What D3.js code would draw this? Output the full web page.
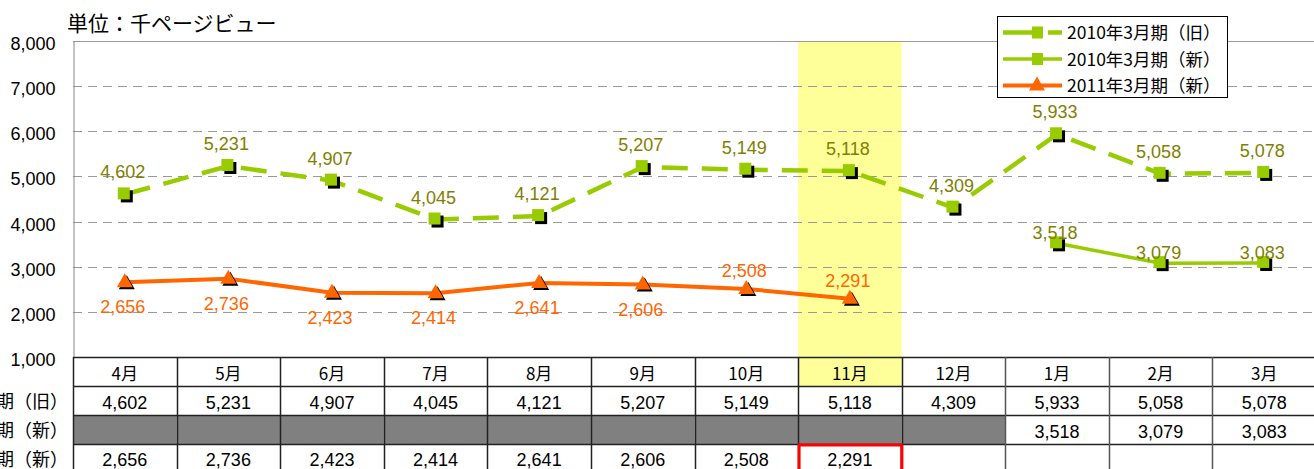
<!DOCTYPE html>
<html>
<head>
<meta charset="utf-8">
<script src="https://cdn.jsdelivr.net/npm/d3@7"></script>
<style>
  body { margin: 0; background: #fff; }
  svg { display: block; font-family: "Noto Sans CJK JP", "DejaVu Sans", sans-serif; }
</style>
</head>
<body>
<div id="chart"></div>
<script>
var months = ["4月", "5月", "6月", "7月", "8月", "9月", "10月", "11月", "12月", "1月", "2月", "3月"];
var old2010 = [4602, 5231, 4907, 4045, 4121, 5207, 5149, 5118, 4309, 5933, 5058, 5078];
var new2010 = [null, null, null, null, null, null, null, null, null, 3518, 3079, 3083];
var new2011 = [2656, 2736, 2423, 2414, 2641, 2606, 2508, 2291, null, null, null, null];
var seriesNames = ["2010年3月期（旧）", "2010年3月期（新）", "2011年3月期（新）"];
var yTicks = [1000, 2000, 3000, 4000, 5000, 6000, 7000, 8000];
// label above (-1) or below (+1) the point for the 2011 series
var labelSide2011 = [1, 1, 1, 1, 1, 1, -1, -1];
var highlight = "11月";

var W = 1314, H = 469;
var green = "#99cc00", olive = "#808000", orange = "#ff6600";
var numFont = "'Liberation Sans', Arial, sans-serif";
var fmt = d3.format(",");

var svg = d3.select("#chart").append("svg").attr("width", W).attr("height", H);

var x = d3.scaleBand().domain(months).range([73, 1316]);
var y = d3.scaleLinear().domain([1000, 8000]).range([357, 41]);
var cx = function (i) { return x(months[i]) + x.bandwidth() / 2; };

// highlighted month column
svg.append("rect")
    .attr("x", x(highlight)).attr("y", y(8000))
    .attr("width", x.bandwidth()).attr("height", 386 - y(8000))
    .style("fill", "#ffff99");

// grid
svg.append("g").selectAll("line").data(yTicks.filter(function (d) { return d > 1000; })).enter().append("line")
    .attr("x1", 73).attr("x2", W)
    .attr("y1", function (d) { return Math.round(y(d)) + 0.5; })
    .attr("y2", function (d) { return Math.round(y(d)) + 0.5; })
    .style("stroke", "#999")
    .style("stroke-dasharray", function (d) { return d === 8000 ? null : "9,6"; });

// y axis
var yAxis = d3.axisLeft(y).tickValues(yTicks).tickSize(0).tickPadding(18).tickFormat(fmt);
var yAxisGroup = svg.append("g").attr("transform", "translate(73.5,0)").call(yAxis);
yAxisGroup.select(".domain").style("stroke", "#888");
yAxisGroup.selectAll("text").attr("dy", "0.47em").style("font-size", "18px").style("fill", "#000")
    .style("font-family", numFont);

svg.append("text").attr("x", 67).attr("y", 31).style("font-size", "21px").text("単位：千ページビュー");

// lines
var line = d3.line()
    .defined(function (d) { return d != null; })
    .x(function (d, i) { return cx(i); })
    .y(function (d) { return y(d); });

svg.append("path").datum(old2010).attr("d", line)
    .style("fill", "none").style("stroke", green).style("stroke-width", 4.5)
    .style("stroke-dasharray", "26,14");
svg.append("path").datum(new2010).attr("d", line)
    .style("fill", "none").style("stroke", green).style("stroke-width", 3.5);
svg.append("path").datum(new2011).attr("d", line)
    .style("fill", "none").style("stroke", orange).style("stroke-width", 4);

var square = function (g, px, py) {
    g.append("rect").attr("x", px - 4).attr("y", py - 4).attr("width", 12).attr("height", 12).style("fill", "#000");
    g.append("rect").attr("x", px - 7).attr("y", py - 7).attr("width", 12).attr("height", 12).style("fill", green);
};
var triangle = function (g, px, py) {
    var tri = function (ox, oy) {
        return "M" + (px + ox) + "," + (py - 9 + oy) + "L" + (px + 8 + ox) + "," + (py + 5 + oy) + "L" + (px - 8 + ox) + "," + (py + 5 + oy) + "Z";
    };
    g.append("path").attr("d", tri(2, 2)).style("fill", "#000");
    g.append("path").attr("d", tri(0, 0)).style("fill", orange);
};

var marks = svg.append("g");
var labels = svg.append("g").style("font-size", "18px").attr("text-anchor", "middle")
    .style("font-family", numFont);

old2010.forEach(function (d, i) {
    if (d == null) return;
    square(marks, cx(i), y(d));
    labels.append("text").attr("x", cx(i) - 2).attr("y", y(d) - 16).style("fill", olive).text(fmt(d));
});
new2010.forEach(function (d, i) {
    if (d == null) return;
    square(marks, cx(i), y(d));
    labels.append("text").attr("x", cx(i) - 2).attr("y", y(d) - 4).style("fill", olive).text(fmt(d));
});
new2011.forEach(function (d, i) {
    if (d == null) return;
    triangle(marks, cx(i), y(d));
    var side = labelSide2011[i];
    labels.append("text").attr("x", cx(i) - 2).attr("y", side > 0 ? y(d) + 31 : y(d) - 12)
        .style("fill", orange).text(fmt(d));
});

// legend
var legend = svg.append("g").attr("transform", "translate(997,16)");
legend.append("rect").attr("x", 0.5).attr("y", 0.5).attr("width", 230).attr("height", 81)
    .style("fill", "#fff").style("stroke", "#000");
[0, 1, 2].forEach(function (k) {
    var ly = 16.5 + k * 26.5;
    if (k === 0) {
        legend.append("line").attr("x1", 6).attr("x2", 38).attr("y1", ly).attr("y2", ly).style("stroke", green).style("stroke-width", 4.5);
        legend.append("line").attr("x1", 51).attr("x2", 65).attr("y1", ly).attr("y2", ly).style("stroke", green).style("stroke-width", 4.5);
        legend.append("rect").attr("x", 35).attr("y", ly - 6).attr("width", 11).attr("height", 12).style("fill", green);
    } else if (k === 1) {
        legend.append("line").attr("x1", 6).attr("x2", 65).attr("y1", ly).attr("y2", ly).style("stroke", green).style("stroke-width", 3.5);
        legend.append("rect").attr("x", 35).attr("y", ly - 6).attr("width", 11).attr("height", 12).style("fill", green);
    } else {
        legend.append("line").attr("x1", 6).attr("x2", 65).attr("y1", ly).attr("y2", ly).style("stroke", orange).style("stroke-width", 4);
        legend.append("path").attr("d", "M40," + (ly - 9) + "L48," + (ly + 5) + "L32," + (ly + 5) + "Z").style("fill", orange);
    }
    legend.append("text").attr("x", 70).attr("y", ly + 6.5).style("font-size", "17.5px").text(seriesNames[k]);
});

// data table
var rowTop = [357, 386, 415, 444];
var rowH = 29;
var rows = [old2010, new2010, new2011];
var table = svg.append("g");

// grey cells for missing 2010 new values
new2010.forEach(function (d, i) {
    if (d == null && i < 9) {
        table.append("rect").attr("x", x(months[i])).attr("y", rowTop[2])
            .attr("width", x.bandwidth()).attr("height", rowH).style("fill", "#808080");
    }
});

// horizontal rules
rowTop.forEach(function (ty) {
    table.append("line").attr("x1", 73).attr("x2", W).attr("y1", ty + 0.5).attr("y2", ty + 0.5)
        .style("stroke", "#222").style("stroke-width", 1.5);
});
// vertical rules
months.forEach(function (m, i) {
    table.append("line").attr("x1", Math.round(x(m)) + 0.5).attr("x2", Math.round(x(m)) + 0.5)
        .attr("y1", rowTop[0]).attr("y2", H)
        .style("stroke", i >= 9 ? "#555" : "#222").style("stroke-width", 1.5);
});

var tText = table.append("g").style("font-size", "18px").attr("text-anchor", "middle")
    .style("font-family", numFont);
months.forEach(function (m, i) {
    tText.append("text").attr("x", cx(i)).attr("y", rowTop[0] + 23)
        .style("font-family", "'Noto Sans CJK JP', sans-serif").style("font-size", "17px").text(m);
});
rows.forEach(function (r, k) {
    r.forEach(function (d, i) {
        if (d == null) return;
        tText.append("text").attr("x", cx(i)).attr("y", Math.min(rowTop[k + 1] + 23, H - 3)).text(fmt(d));
    });
    table.append("text").attr("x", 68).attr("y", Math.min(rowTop[k + 1] + 22, H - 3)).attr("text-anchor", "end")
        .style("font-size", "18px").text(seriesNames[k]);
});

// red box on the latest month
table.append("rect").attr("x", x(highlight) + 1).attr("y", rowTop[3] + 1)
    .attr("width", x.bandwidth() - 1).attr("height", rowH + 4)
    .style("fill", "none").style("stroke", "#ff0000").style("stroke-width", 3);
</script>
</body>
</html>
